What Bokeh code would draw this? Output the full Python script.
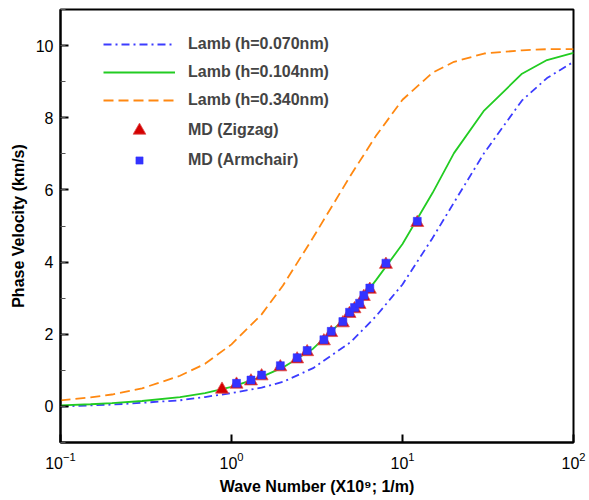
from bokeh.plotting import figure
from bokeh.models import (Range1d, FixedTicker, SingleIntervalTicker, Legend, LegendItem,
                          LogTickFormatter)
from bokeh.embed import file_html
from bokeh.resources import INLINE

# ---- data ----
k_lamb = [0.1, 0.15, 0.2, 0.3, 0.5, 0.7, 1.0, 1.5, 2.0, 3.0, 5.0, 7.0, 10, 15, 20, 30, 50, 70, 100]
v_h070 = [0.0, 0.03, 0.05, 0.10, 0.17, 0.26, 0.37, 0.52, 0.68, 1.06, 1.79, 2.5, 3.38, 4.67, 5.65, 7.02, 8.48, 9.1, 9.55]
v_h104 = [0.03, 0.06, 0.09, 0.15, 0.26, 0.37, 0.54, 0.82, 1.08, 1.6, 2.6, 3.5, 4.5, 5.92, 7.02, 8.2, 9.22, 9.6, 9.8]
v_h340 = [0.17, 0.25, 0.33, 0.50, 0.85, 1.18, 1.72, 2.55, 3.35, 4.68, 6.42, 7.5, 8.5, 9.25, 9.55, 9.78, 9.87, 9.9, 9.9]

k_zigzag = [0.88, 1.07, 1.30, 1.50, 1.93, 2.42, 2.77, 3.47, 3.83, 4.48, 4.90, 5.24, 5.61, 5.94, 6.44, 8.0, 12.2]
v_zigzag = [0.47, 0.61, 0.70, 0.84, 1.09, 1.31, 1.51, 1.81, 2.04, 2.31, 2.57, 2.70, 2.82, 3.04, 3.24, 3.93, 5.09]

k_armchair = [1.07, 1.30, 1.50, 1.93, 2.42, 2.77, 3.47, 3.83, 4.48, 4.90, 5.24, 5.61, 5.94, 6.44, 8.0, 12.2]
v_armchair = [0.64, 0.73, 0.87, 1.13, 1.35, 1.55, 1.85, 2.08, 2.35, 2.61, 2.74, 2.86, 3.08, 3.28, 3.97, 5.13]

x_ticks = [0.1, 1, 10, 100]

FONT = "Liberation Sans"
BLUE = "#3c3cff"
GREEN = "#22cc22"
ORANGE = "#ff8811"

p = figure(width=589, height=500, x_axis_type="log",
           x_range=Range1d(0.1, 100), y_range=Range1d(-1, 11),
           output_backend="svg", toolbar_location=None,
           min_border_left=60, min_border_right=16, min_border_top=9, min_border_bottom=58)

p.xgrid.visible = False
p.ygrid.visible = False
p.outline_line_color = "black"
p.outline_line_width = 2
p.outline_line_alpha = 1

r_b = p.line(k_lamb, v_h070, line_color=BLUE, line_width=1.8, line_dash="8 4 2 4")
r_g = p.line(k_lamb, v_h104, line_color=GREEN, line_width=1.8)
r_o = p.line(k_lamb, v_h340, line_color=ORANGE, line_width=1.8, line_dash="10 5")
r_t = p.scatter(k_zigzag, v_zigzag, marker="triangle", size=13, fill_color="#d40000",
                line_color="#e05050", line_width=0.8)
r_s = p.scatter(k_armchair, v_armchair, marker="square", size=8, fill_color="#3333ff",
                line_color="#3333ff", line_width=0.5)

# axes
xa = p.xaxis[0]
xa.ticker = FixedTicker(ticks=x_ticks, minor_ticks=[])
xa.formatter = LogTickFormatter()
ya = p.yaxis[0]
ya.ticker = SingleIntervalTicker(interval=2, num_minor_ticks=2)

for ax in (xa, ya):
    ax.axis_line_width = 2
    ax.axis_line_color = "black"
    ax.major_tick_in = 8
    ax.major_tick_out = 0
    ax.major_tick_line_width = 2
    ax.minor_tick_in = 5
    ax.minor_tick_out = 0
    ax.minor_tick_line_width = 1
    ax.minor_tick_line_color = "#555555"
    ax.major_label_text_font = FONT
    ax.major_label_text_font_size = "16px"
    ax.major_label_text_color = "black"
    ax.axis_label_text_font = FONT
    ax.axis_label_text_font_size = "16px"
    ax.axis_label_text_font_style = "bold"
    ax.axis_label_text_color = "black"

xa.major_label_standoff = 9
xa.axis_label_standoff = 6
xa.axis_label = "Wave Number (X10⁹; 1/m)"
ya.major_label_standoff = 7
ya.axis_label_standoff = 6
ya.axis_label = "Phase Velocity (km/s)"


def make_legend(items, loc, gh, spacing=8):
    lg = Legend(items=items, location=loc)
    lg.glyph_width = 72
    lg.glyph_height = gh
    lg.label_height = gh
    lg.spacing = spacing
    lg.padding = 5
    lg.margin = 0
    lg.label_standoff = 13
    lg.label_text_font = FONT
    lg.label_text_font_size = "16px"
    lg.label_text_font_style = "bold"
    lg.border_line_alpha = 0
    lg.background_fill_alpha = 0
    p.add_layout(lg, "center")
    return lg


make_legend([
    LegendItem(label="Lamb (h=0.070nm)", renderers=[r_b]),
    LegendItem(label="Lamb (h=0.104nm)", renderers=[r_g]),
    LegendItem(label="Lamb (h=0.340nm)", renderers=[r_o]),
], (38, 327), 20)
make_legend([LegendItem(label="MD (Zigzag)", renderers=[r_t])], (38, 291), 32)
make_legend([LegendItem(label="MD (Armchair)", renderers=[r_s])], (38, 268), 18)

open("out.html", "w").write(file_html(p, INLINE))
